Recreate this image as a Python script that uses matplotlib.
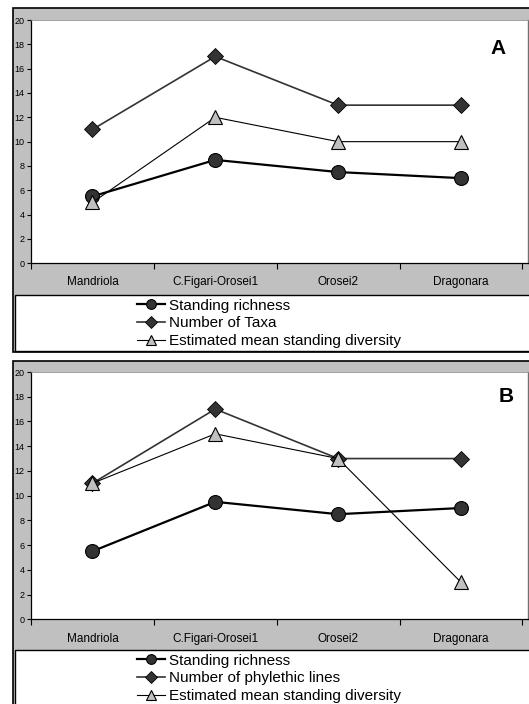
import matplotlib.pyplot as plt
from matplotlib.patches import Rectangle

plt.rcParams['font.family'] = ['Liberation Sans', 'DejaVu Sans']

sites = ['Mandriola', 'C.Figari-Orosei1', 'Orosei2', 'Dragonara']

# panel A
richness_a = [5.5, 8.5, 7.5, 7.0]
taxa_a = [11, 17, 13, 13]
est_a = [5, 12, 10, 10]

# panel B
richness_b = [5.5, 9.5, 8.5, 9.0]
phyl_b = [11, 17, 13, 13]
est_b = [11, 15, 13, 3]

W, H = 529, 704
fig = plt.figure(figsize=(W / 100, H / 100), dpi=100)


def px_rect(x0, y0, x1, y1):
    # pixel box (top-left origin) -> figure fraction [l, b, w, h]
    return [x0 / W, 1 - y1 / H, (x1 - x0) / W, (y1 - y0) / H]


def panel(top, plot_top, plot_bot, legend_top, legend_bot, bottom, series, labels, letter, letter_xy):
    # gray outer box
    l, b, w, h = px_rect(13, top, 545, bottom)
    fig.patches.append(Rectangle((l, b), w, h, transform=fig.transFigure,
                                 facecolor='#c0c0c0', edgecolor='black', lw=1.2, zorder=-3))
    # white legend box
    l, b, w, h = px_rect(14.5, legend_top, 545, legend_bot)
    fig.patches.append(Rectangle((l, b), w, h, transform=fig.transFigure,
                                 facecolor='white', edgecolor='black', lw=1.0, zorder=-2))

    ax = fig.add_axes(px_rect(31, plot_top, 528, plot_bot))
    ax.set_facecolor('white')
    x = list(range(len(sites)))
    r, t, e = series
    ax.plot(x, r, color='black', lw=1.6, marker='o', ms=10, mfc='#333333', mec='black',
            mew=0.8, label=labels[0], zorder=3)
    ax.plot(x, t, color='#333333', lw=1.2, marker='D', ms=8.5, mfc='#333333', mec='black',
            mew=0.6, label=labels[1], zorder=4)
    ax.plot(x, e, color='black', lw=0.8, marker='^', ms=10.5, mfc='#c0c0c0', mec='black',
            mew=0.8, label=labels[2], zorder=5)

    ax.set_ylim(0, 20)
    ax.set_xlim(-0.5, 3.546)
    ax.set_yticks(range(0, 21, 2))
    ax.set_xticks([-0.5, 0.5, 1.5, 2.5, 3.5])
    ax.set_xticklabels([])
    ax.tick_params(axis='y', labelsize=6.5, length=3, width=0.8, pad=1.5, direction='out')
    ax.tick_params(axis='x', length=4, width=0.8, direction='out')
    for i, s in enumerate(sites):
        ax.text(i, -0.078, s, transform=ax.get_xaxis_transform(), ha='center', va='center',
                fontsize=8.5, color='black')
    ax.spines['left'].set_linewidth(0.9)
    ax.spines['bottom'].set_linewidth(0.9)
    ax.spines['top'].set_color('#909090')
    ax.spines['top'].set_linewidth(0.6)
    ax.spines['right'].set_color('#707070')
    ax.spines['right'].set_linewidth(1.0)

    fig.text(letter_xy[0] / W, 1 - letter_xy[1] / H, letter, fontsize=15, fontweight='bold',
             ha='center', va='center')

    ax.legend(loc='upper left', bbox_to_anchor=(137 / W, 1 - (legend_top + 3.5) / H),
              bbox_transform=fig.transFigure, frameon=False, fontsize=11,
              markerscale=0.7, handlelength=1.8, handletextpad=0.3,
              labelspacing=0.26, borderaxespad=0, borderpad=0)
    return ax


panel(8, 20, 263.3, 295, 351, 352,
      (richness_a, taxa_a, est_a),
      ['Standing richness', 'Number of Taxa', 'Estimated mean standing diversity'],
      'A', (498, 49))

panel(361, 372, 619.3, 650, 720, 720,
      (richness_b, phyl_b, est_b),
      ['Standing richness', 'Number of phylethic lines', 'Estimated mean standing diversity'],
      'B', (506, 396))

fig.savefig('out.png', dpi=100)
